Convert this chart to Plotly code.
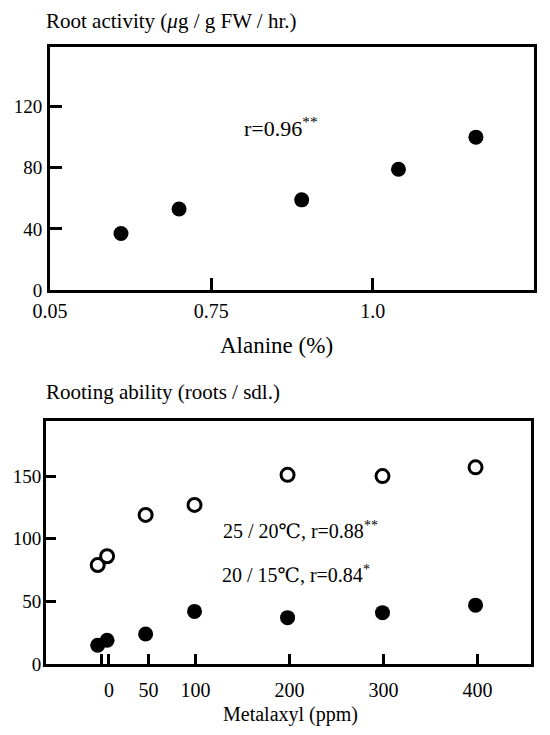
import plotly.graph_objects as go

# ---- data ----
alanine = [0.61, 0.70, 0.89, 1.04, 1.16]
root_activity = [37, 53, 59, 79, 100]

metalaxyl = [-4, 6, 47, 99, 198, 299, 398]
rooting_25_20 = [79, 86, 119, 127, 151, 150, 157]
rooting_20_15 = [15, 19, 24, 42, 37, 41, 47]

top_xticks = [0.5, 0.75, 1.0, 1.25]
top_xtext = ["0.05", "0.75", "1.0", "1.25"]
top_yticks = [0, 40, 80, 120]
bot_xtick_marks = [0, 8, 50, 100, 200, 300, 400]
bot_xtick_text = ["", "0", "50", "100", "200", "300", "400"]
bot_yticks = [0, 50, 100, 150]

FONT = "Liberation Serif, DejaVu Serif, serif"
# page body has an 8px margin; keep the figure inside the 550x735 window
OFF = 8
W, H = 550 - 2 * OFF, 735 - 2 * OFF

def px(x):
    return (x - OFF) / W

def py(y):
    return 1 - (y - OFF) / H

fig = go.Figure()

fig.add_trace(go.Scatter(
    x=alanine, y=root_activity, mode="markers",
    marker=dict(size=15, color="black", line=dict(width=0)),
    xaxis="x", yaxis="y", showlegend=False))

fig.add_trace(go.Scatter(
    x=metalaxyl, y=rooting_25_20, mode="markers",
    marker=dict(size=13, color="white", symbol="circle",
                line=dict(width=3, color="black")),
    xaxis="x2", yaxis="y2", showlegend=False))

fig.add_trace(go.Scatter(
    x=metalaxyl, y=rooting_20_15, mode="markers",
    marker=dict(size=15, color="black", line=dict(width=0)),
    xaxis="x2", yaxis="y2", showlegend=False))

XTICKFONT = dict(family=FONT, size=20, color="black")
YTICKFONT = dict(family=FONT, size=19, color="black")
axis_common = dict(showline=True, linecolor="black", linewidth=3, mirror=True,
                   showgrid=False, zeroline=False, automargin=False)

fig.update_layout(
    width=W, height=H,
    margin=dict(l=0, r=0, t=0, b=0, autoexpand=False),
    paper_bgcolor="white", plot_bgcolor="white",
    xaxis=dict(domain=[px(50), px(534)], range=[0.5, 1.25], anchor="y",
               tickmode="array", tickvals=top_xticks, ticktext=top_xtext,
               ticks="inside", ticklen=12, tickwidth=2.5, tickcolor="black",
               ticklabelstandoff=1, tickfont=XTICKFONT, **axis_common),
    yaxis=dict(domain=[py(290), py(47)], range=[0, 159], anchor="x",
               tickmode="array", tickvals=top_yticks,
               ticks="inside", ticklen=12, tickwidth=2.5, tickcolor="black",
               ticklabelstandoff=1, tickfont=YTICKFONT, **axis_common),
    xaxis2=dict(domain=[px(46), px(531)], range=[-59, 457], anchor="y2",
                tickmode="array", tickvals=bot_xtick_marks, ticktext=bot_xtick_text,
                ticks="inside", ticklen=10, tickwidth=2.5, tickcolor="black",
                ticklabelstandoff=6, tickfont=XTICKFONT, **axis_common),
    yaxis2=dict(domain=[py(664), py(421)], range=[0, 194], anchor="x2",
                tickmode="array", tickvals=bot_yticks,
                ticks="inside", ticklen=10, tickwidth=2.5, tickcolor="black",
                ticklabelstandoff=-2, tickfont=YTICKFONT, **axis_common),
)

def ann(text, x, y, size=20, xanchor="center"):
    fig.add_annotation(text=text, x=px(x), y=py(y), xref="paper", yref="paper",
                       showarrow=False, xanchor=xanchor, yanchor="middle",
                       font=dict(family=FONT, size=size, color="black"))

ann("Root activity (<i>μ</i>g / g FW / hr.)", 44, 21, size=21, xanchor="left")
ann("Alanine (%)", 276, 345, size=23)
ann("r=0.96<sup>**</sup>", 281, 127, size=22)
ann("Rooting ability (roots / sdl.)", 44, 392, size=21, xanchor="left")
ann("25 / 20℃, r=0.88<sup>**</sup>", 300, 530, size=20)
ann("20 / 15℃, r=0.84<sup>*</sup>", 296, 574, size=20)
ann("Metalaxyl (ppm)", 290, 714, size=20)

fig.write_html("out.html")
